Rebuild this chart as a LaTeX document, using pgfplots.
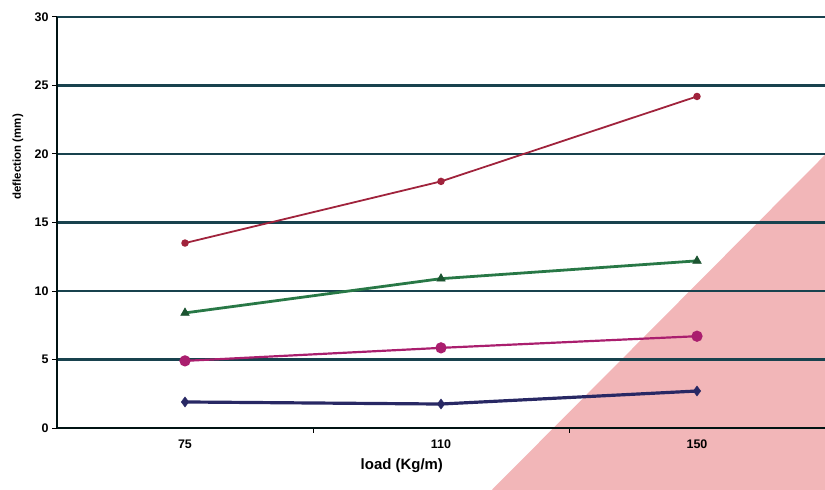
\documentclass[border=0pt]{standalone}
\usepackage{fontspec}
\setmainfont{Liberation Sans}
\usepackage{pgfplots}
\pgfplotsset{compat=1.18}
\definecolor{gridc}{RGB}{24,66,78}
\definecolor{pinkc}{RGB}{242,182,184}
\definecolor{sone}{RGB}{160,35,60}
\definecolor{stwo}{RGB}{40,120,70}
\definecolor{sthree}{RGB}{170,30,110}
\definecolor{sfour}{RGB}{40,40,100}
\begin{document}
\begin{tikzpicture}
\begin{axis}[
  set layers,
  scale only axis, width=768bp, height=411bp,
  xmin=-0.5, xmax=2.5, ymin=0, ymax=30,
  axis lines*=left,
  axis line style={line width=2.4pt, color=black!85!teal},
  clip=false,
  xtick={0,1,2}, xticklabels={75,110,150},
  major x tick style={draw=none},
  minor xtick={0.5,1.5},
  minor x tick style={draw=black, line width=1pt},
  minor tick length=5pt,
  ytick={0,5,...,30},
  major y tick style={draw=black, line width=1pt},
  major tick length=5pt,
  tick align=outside,
  ymajorgrids, grid style={line width=3pt, gridc},
  /pgf/number format/assume math mode=true,
  ticklabel style={font=\bfseries\fontsize{12.5}{14}\selectfont},
  xticklabel style={yshift=-3bp},
  xlabel={load (Kg/m)},
  ylabel={deflection (mm)},
  xlabel style={font=\bfseries\fontsize{15}{17}\selectfont, at={(axis description cs:0.449,-0.092)}, anchor=center},
  ylabel style={font=\bfseries\fontsize{11.5}{13}\selectfont, at={(axis description cs:-0.051,0.66)}, anchor=center},
]
\addplot[draw=none, fill=pinkc, on layer=axis background] coordinates {(1.198,-4.53) (2.5,-4.53) (2.5,19.93)} -- cycle;
\addplot[sone, line width=1.8pt, mark=*, mark size=2.8pt, mark options={fill=sone}] coordinates {(0,13.5) (1,18.0) (2,24.2)};
\addplot[stwo, line width=2.8pt, mark=triangle*, mark size=5pt, mark options={fill=stwo!70!black, draw=stwo!70!black, line width=0.5pt}] coordinates {(0,8.4) (1,10.9) (2,12.2)};
\addplot[sthree, line width=2.2pt, mark=*, mark size=4.5pt, mark options={fill=sthree}] coordinates {(0,4.9) (1,5.85) (2,6.7)};
\addplot[sfour, line width=3.2pt, mark=diamond*, mark size=5pt, mark options={fill=sfour, line width=0.5pt}] coordinates {(0,1.9) (1,1.75) (2,2.7)};
\end{axis}
\pgfresetboundingbox
\path ([xshift=-57bp,yshift=-62bp]current axis.south west) rectangle ([yshift=17bp]current axis.north east);
\end{tikzpicture}
\end{document}
